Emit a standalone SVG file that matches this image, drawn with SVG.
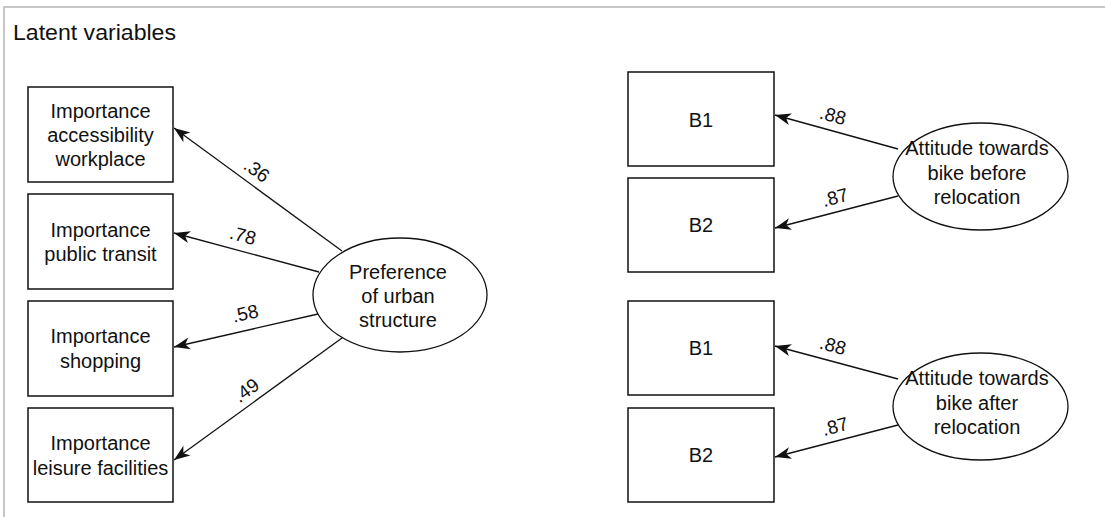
<svg xmlns="http://www.w3.org/2000/svg" width="1105" height="517" viewBox="0 0 1105 517">
<style>
text{font-family:"Liberation Sans",Arial,sans-serif;fill:#111;}
.t{font-size:20px;text-anchor:middle;}
.lbl{font-size:19px;text-anchor:middle;}
.box{fill:#fff;stroke:#111;stroke-width:1.5;}
.ell{fill:#fff;stroke:#111;stroke-width:1.3;}
.edge{stroke:#111;stroke-width:1.3;fill:none;marker-end:url(#ah);}
</style>
<defs>
<marker id="ah" markerUnits="userSpaceOnUse" markerWidth="18" markerHeight="14" viewBox="0 0 18 14" refX="17" refY="7" orient="auto">
<path d="M1,1 L17,7 L1,13 L5.5,7 Z" fill="#111"/>
</marker>
</defs>
<rect x="0" y="0" width="1105" height="517" fill="#fff"/>
<path d="M4,517 V7 H1105" fill="none" stroke="#c8c8c8" stroke-width="2"/>
<text x="13" y="40" font-size="22" textLength="163" lengthAdjust="spacingAndGlyphs">Latent variables</text>

<g id="connectors">
<line class="edge" x1="342" y1="251" x2="174" y2="128"/>
<line class="edge" x1="319" y1="272" x2="174" y2="233"/>
<line class="edge" x1="318" y1="314" x2="174" y2="347"/>
<line class="edge" x1="342" y1="338" x2="174" y2="460"/>
<line class="edge" x1="898" y1="149" x2="775" y2="115"/>
<line class="edge" x1="898" y1="196" x2="775" y2="228"/>
<line class="edge" x1="898" y1="379" x2="775" y2="346"/>
<line class="edge" x1="898" y1="425" x2="775" y2="457"/>
<text class="lbl" x="257" y="177" transform="rotate(36 257 170)">.36</text>
<text class="lbl" x="243" y="242" transform="rotate(15 243 235)">.78</text>
<text class="lbl" x="245" y="320" transform="rotate(-13 245 313)">.58</text>
<text class="lbl" x="246" y="397" transform="rotate(-36 246 390)">.49</text>
<text class="lbl" x="833" y="122" transform="rotate(15 833 115)">.88</text>
<text class="lbl" x="835" y="204" transform="rotate(-15 835 197)">.87</text>
<text class="lbl" x="833" y="352" transform="rotate(15 833 345)">.88</text>
<text class="lbl" x="835" y="433" transform="rotate(-15 835 426)">.87</text>
</g>

<g id="imp-workplace">
<rect class="box" x="28" y="87" width="145" height="95"/>
<text class="t" x="100.5" y="118">Importance</text>
<text class="t" x="100.5" y="142">accessibility</text>
<text class="t" x="100.5" y="166">workplace</text>
</g>
<g id="imp-transit">
<rect class="box" x="28" y="194" width="145" height="95"/>
<text class="t" x="100.5" y="237">Importance</text>
<text class="t" x="100.5" y="261">public transit</text>
</g>
<g id="imp-shopping">
<rect class="box" x="28" y="301" width="145" height="95"/>
<text class="t" x="100.5" y="343">Importance</text>
<text class="t" x="100.5" y="368">shopping</text>
</g>
<g id="imp-leisure">
<rect class="box" x="28" y="408" width="145" height="94"/>
<text class="t" x="100.5" y="450">Importance</text>
<text class="t" x="100.5" y="475">leisure facilities</text>
</g>
<g id="pref-urban">
<ellipse class="ell" cx="400" cy="295" rx="87" ry="57"/>
<text class="t" x="398" y="279">Preference</text>
<text class="t" x="398" y="303">of urban</text>
<text class="t" x="398" y="327">structure</text>
</g>

<g id="b1-before">
<rect class="box" x="628" y="72" width="146" height="94"/>
<text class="t" x="701" y="127">B1</text>
</g>
<g id="b2-before">
<rect class="box" x="628" y="178" width="146" height="94"/>
<text class="t" x="701" y="232">B2</text>
</g>
<g id="att-before">
<ellipse class="ell" cx="980.5" cy="176.5" rx="87.5" ry="53.5"/>
<text class="t" x="977" y="155">Attitude towards</text>
<text class="t" x="977" y="180">bike before</text>
<text class="t" x="977" y="204">relocation</text>
</g>

<g id="b1-after">
<rect class="box" x="628" y="301" width="146" height="94"/>
<text class="t" x="701" y="355">B1</text>
</g>
<g id="b2-after">
<rect class="box" x="628" y="408" width="146" height="94"/>
<text class="t" x="701" y="462">B2</text>
</g>
<g id="att-after">
<ellipse class="ell" cx="980.5" cy="406.5" rx="87.5" ry="53.5"/>
<text class="t" x="977" y="385">Attitude towards</text>
<text class="t" x="977" y="410">bike after</text>
<text class="t" x="977" y="434">relocation</text>
</g>
</svg>
